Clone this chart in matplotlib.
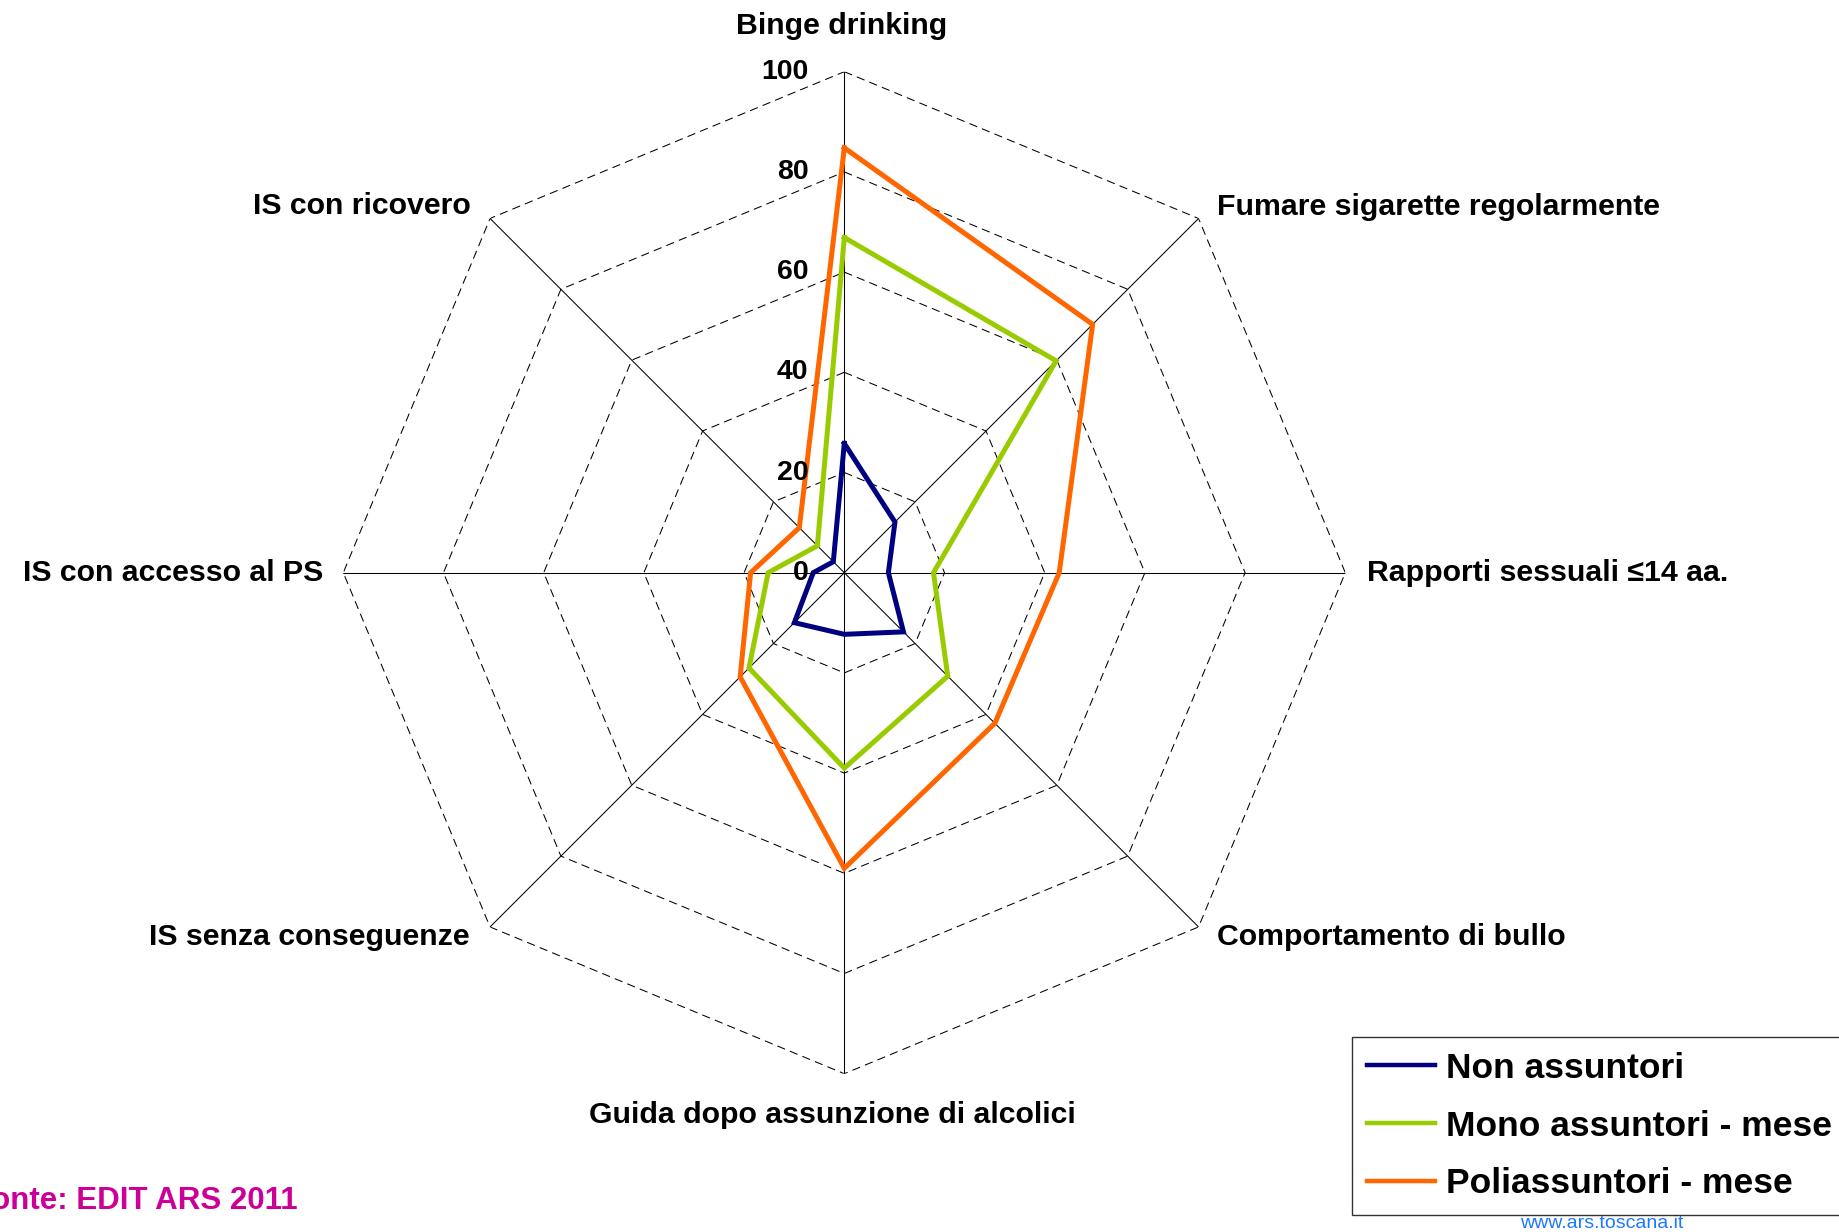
import numpy as np
import matplotlib
matplotlib.use("Agg")
import matplotlib.pyplot as plt

plt.rcParams['font.family'] = ['Liberation Sans', 'DejaVu Sans']

categories = ["Binge drinking", "Fumare sigarette regolarmente", "Rapporti sessuali \u226414 aa.",
              "Comportamento di bullo", "Guida dopo assunzione di alcolici",
              "IS senza conseguenze", "IS con accesso al PS", "IS con ricovero"]
non_assuntori = [25.8, 14.3, 8.8, 16.7, 12.3, 14.1, 6.2, 3.1]
mono_assuntori = [66.9, 59.8, 17.8, 29.2, 39.0, 26.9, 15.2, 7.6]
poli_assuntori = [84.8, 70.1, 42.9, 42.5, 59.0, 29.4, 18.7, 12.7]
series_names = ["Non assuntori", "Mono assuntori - mese", "Poliassuntori - mese"]
series_colors = ["#000080", "#99CC00", "#FF6600"]
ticks = [0, 20, 40, 60, 80, 100]

W, H = 1839, 1232
fig = plt.figure(figsize=(W / 100, H / 100), dpi=100)
cx, cy, R = 844.3, 572.7, 501.0
ax = fig.add_axes([(cx - R) / W, (H - cy - R) / H, 2 * R / W, 2 * R / H], projection='polar')
ax.set_theta_offset(np.pi / 2)
ax.set_theta_direction(-1)
ax.set_ylim(0, 100)
ax.grid(False)
ax.spines['polar'].set_visible(False)
ax.set_xticks([])
ax.set_yticks([])
ax.patch.set_alpha(0)

n = len(categories)
angles = np.arange(n) * 2 * np.pi / n
closed = np.append(angles, angles[0])

# rings (dashed polygons)
for t in ticks[1:]:
    ax.plot(closed, [t] * (n + 1), color='black', lw=0.75, linestyle=(0, (8, 5)), zorder=1)
# spokes
for a in angles:
    ax.plot([a, a], [0, 100], color='black', lw=0.75, zorder=1)

handles = []
for vals, name, col in zip([non_assuntori, mono_assuntori, poli_assuntori], series_names, series_colors):
    v = np.append(vals, vals[0])
    h, = ax.plot(closed, v, color=col, lw=3.6, label=name, zorder=3, solid_joinstyle='miter')
    handles.append(h)

# tick labels
for t in ticks:
    ax.annotate(str(t), xy=(0, t), xytext=(-36, 0), textcoords='offset pixels',
                ha='right', va='center', fontsize=20.5, fontweight='bold', annotation_clip=False)

# category labels
offsets = [(-3, 46, 'center'), (18, 11, 'left'), (22, 0, 'left'), (18, -10, 'left'),
           (-12, -41, 'center'), (-20, -10, 'right'), (-20, 0, 'right'), (-19, 12, 'right')]
for a, lab, (dx, dy, ha) in zip(angles, categories, offsets):
    ax.annotate(lab, xy=(a, 100), xytext=(dx, dy), textcoords='offset pixels',
                ha=ha, va='center', fontsize=21.8, fontweight='bold', annotation_clip=False)

leg = fig.legend(handles=handles, loc='upper left', bbox_to_anchor=(1352 / W, 1 - 1037 / H),
                 prop={'weight': 'bold', 'size': 25.5}, frameon=True, fancybox=False,
                 edgecolor='black', handlelength=1.92, handletextpad=0.3, labelspacing=0.7,
                 borderpad=0.42, borderaxespad=0)
leg.get_frame().set_linewidth(1.0)
for l in leg.get_lines():
    l.set_linewidth(3.2)

fig.text(298 / W, 1 - 1201 / H, "Fonte: EDIT ARS 2011", ha='right', va='center',
         fontsize=22.5, fontweight='bold', color='#CC0099')
fig.text(1602 / W, 1 - 1224 / H, "www.ars.toscana.it", ha='center', va='center',
         fontsize=14, color='#1E78FF')

fig.savefig("out.png", dpi=100)
